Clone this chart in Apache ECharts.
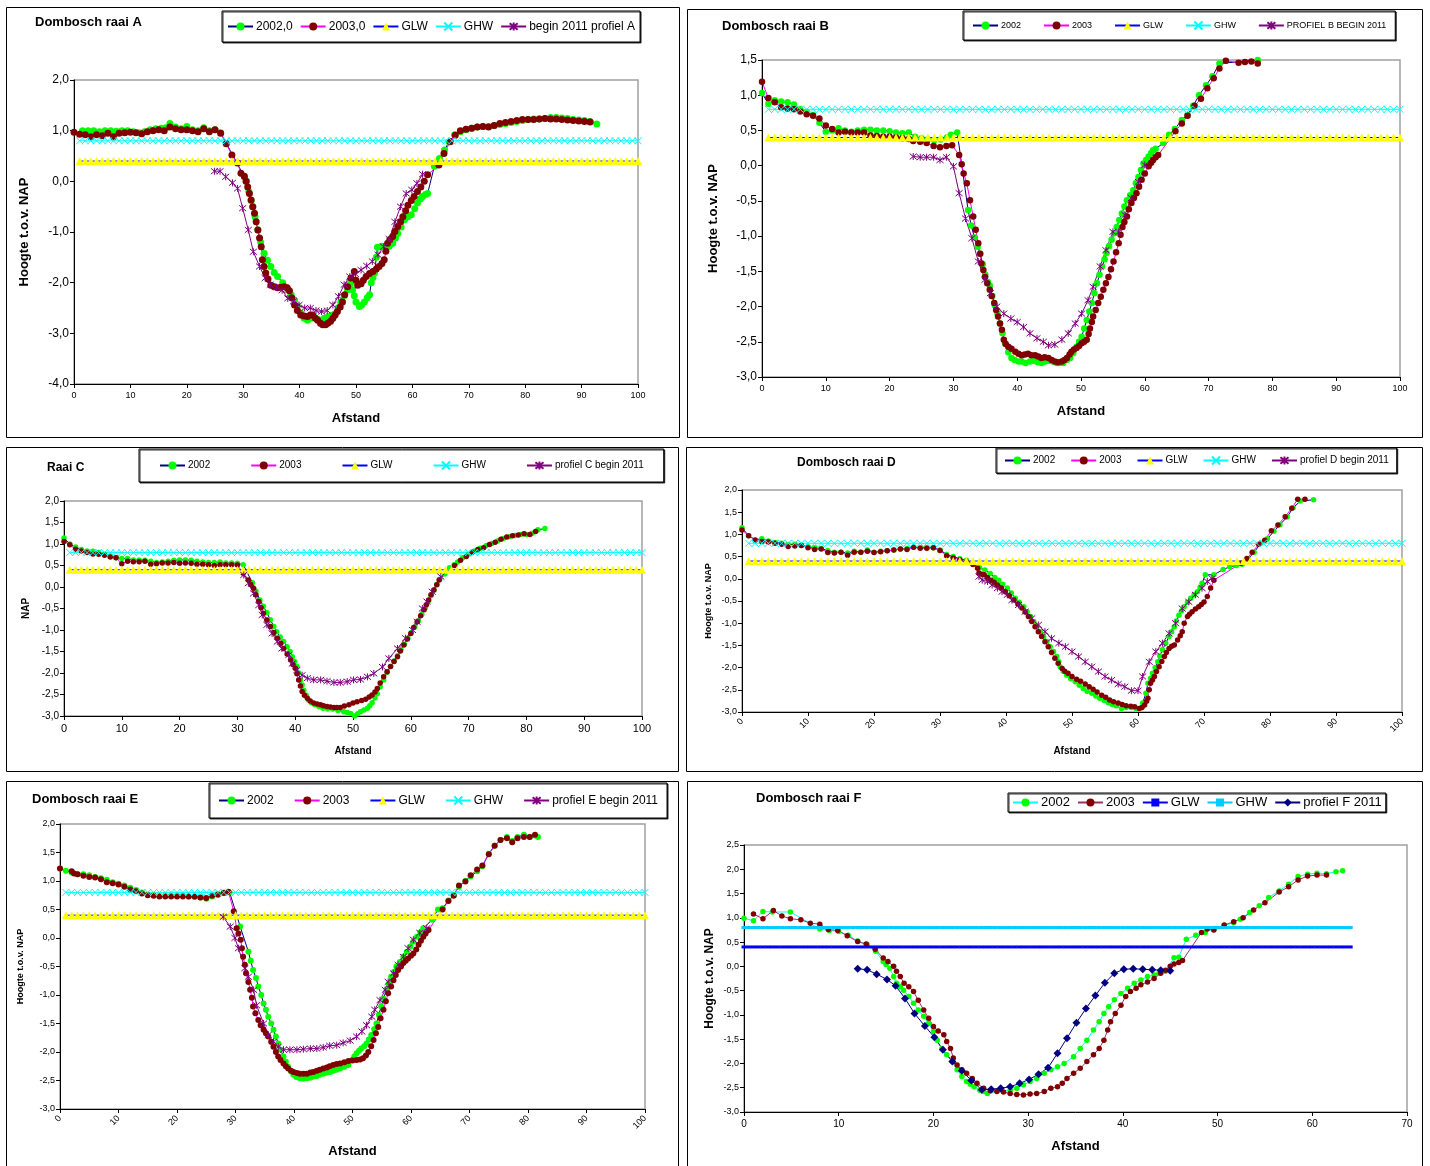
<!DOCTYPE html>
<html><head><meta charset="utf-8">
<script src="https://cdn.jsdelivr.net/npm/echarts@6/dist/echarts.min.js"></script>
<style>html,body{margin:0;padding:0;background:#fff}#c{width:1430px;height:1166px}</style>
</head><body><div id="c"></div>
<script>
// ---------------- DATA ----------------
const GLW_LEVEL = 0.4, GHW_LEVEL = 0.8;

const A_2002 = [[1.5,1.0],[2.5,1.0],[3.5,1.0],[4.5,0.98],[5.5,1.0],[6.5,1.0],[7.5,0.99],[8.5,1.0],[9.5,1.0],[10.5,0.98],[11.5,0.96],[12.5,0.98],[13.5,1.02],[14.5,1.04],[15.5,1.05],[16.3,1.06],[17,1.14],[18,1.07],[19,1.04],[20,1.08],[21,1.02],[22,1.0],[23,1.06],[24,1.0],[25,1.02],[26,0.96],
[30.2,0.09],[30.6,0.0],[31.0,-0.2],[31.4,-0.38],[31.7,-0.5],[32.1,-0.7],[32.6,-0.96],[33.1,-1.2],[33.7,-1.42],[34.3,-1.56],[34.9,-1.68],[35.5,-1.8],[36.1,-1.88],[37.0,-2.0],[37.9,-2.14],[38.5,-2.24],[39.1,-2.34],[39.6,-2.46],[40.2,-2.6],[40.8,-2.7],[41.4,-2.74],[42.0,-2.7],[42.6,-2.68],[43.2,-2.72],[43.8,-2.74],[44.4,-2.7],[45.0,-2.68],[45.6,-2.65],[46.2,-2.62],[46.8,-2.5],[47.3,-2.38],[47.9,-2.26],[48.5,-2.14],[49.1,-2.0],[49.4,-2.14],[49.7,-2.26],[50.0,-2.38],[50.6,-2.47],[51.0,-2.44],[51.5,-2.38],[52.0,-2.3],[52.4,-2.24],[52.7,-2.0],[53.0,-1.9],[53.3,-1.81],[53.6,-1.5],[53.8,-1.3],[54.5,-1.28],[55.3,-1.32],[55.9,-1.28],[56.5,-1.22],[57.0,-1.12],[57.4,-1.03],[58.0,-0.9],[58.6,-0.76],[59.2,-0.7],[59.8,-0.66],[60.4,-0.54],[60.9,-0.43],[61.4,-0.35],[61.8,-0.3],[62.3,-0.26],[62.7,-0.24],
[63.9,0.3],[64.8,0.45],[65.7,0.62],[66.5,0.78],[67.5,0.92],[68.5,0.98],[69.5,1.02],[70.5,1.05],[71.5,1.07],[72.5,1.08],[73.5,1.08],[74.5,1.1],[75.5,1.12],[76.5,1.14],[77.5,1.16],[78.5,1.18],[79.5,1.2],[80.5,1.22],[81.5,1.23],[82.5,1.23],[83.5,1.24],[84.5,1.26],[85.5,1.26],[86.5,1.25],[87.5,1.24],[88.5,1.22],[89.5,1.21],[90.5,1.2],[91.5,1.18],[92.7,1.13]];
const A_2003 = [[0,0.97],[1,0.93],[2,0.92],[3,0.88],[4,0.92],[5,0.9],[6,0.95],[7,0.88],[8,0.95],[9,0.96],[10,0.97],[11,0.96],[12,0.94],[13,0.98],[14,1.0],[15,1.02],[16,1.0],[17,1.07],[18,1.04],[19,1.02],[20,1.02],[21,1.0],[22,0.98],[23,1.04],[24,0.98],[25,1.02],[26,0.95],[27,0.74],[28,0.52],[29,0.36],
[29.6,0.16],[30.2,0.1],[30.5,0.0],[30.8,-0.11],[31.1,-0.24],[31.4,-0.37],[31.7,-0.5],[32.0,-0.63],[32.3,-0.8],[32.6,-0.96],[32.9,-1.12],[33.2,-1.29],[33.4,-1.55],[33.7,-1.68],[34.0,-1.81],[34.4,-1.93],[34.9,-2.05],[35.5,-2.08],[36.1,-2.1],[36.7,-2.09],[37.3,-2.08],[37.8,-2.1],[38.2,-2.16],[38.6,-2.3],[39.1,-2.44],[39.6,-2.55],[40.2,-2.64],[40.8,-2.66],[41.4,-2.67],[41.9,-2.64],[42.3,-2.64],[42.8,-2.7],[43.2,-2.74],[43.7,-2.8],[44.1,-2.83],[44.6,-2.83],[45.0,-2.8],[45.5,-2.76],[45.9,-2.7],[46.3,-2.64],[46.7,-2.57],[47.2,-2.48],[47.6,-2.38],[48.0,-2.24],[48.5,-2.08],[49.1,-1.91],[49.7,-1.78],[50.0,-1.95],[50.3,-2.05],[50.9,-2.02],[51.3,-1.95],[51.8,-1.88],[52.4,-1.82],[53.0,-1.78],[53.6,-1.73],[54.1,-1.68],[54.6,-1.62],[55.0,-1.55],[55.3,-1.38],[55.6,-1.22],[56.0,-1.15],[56.5,-1.09],[56.9,-0.99],[57.4,-0.89],[57.9,-0.8],[58.3,-0.7],[58.8,-0.58],[59.2,-0.47],[59.8,-0.38],[60.3,-0.3],[60.9,-0.2],[61.5,-0.11],[62.1,0.0],[62.7,0.13],
[64.7,0.32],[65.6,0.55],[66.7,0.78],[67.6,0.91],[68.5,1.0],[69.5,1.03],[70.5,1.05],[71.5,1.07],[72.5,1.08],[73.5,1.07],[74.5,1.1],[75.5,1.14],[76.5,1.16],[77.5,1.18],[78.5,1.2],[79.5,1.22],[80.5,1.22],[81.5,1.22],[82.5,1.23],[83.5,1.24],[84.5,1.23],[85.5,1.23],[86.5,1.22],[87.5,1.21],[88.5,1.2],[89.5,1.19],[90.5,1.18],[91.5,1.17]];
const A_2011 = [[24.9,0.2],[25.9,0.2],[26.9,0.09],[28.1,-0.03],[29.0,-0.14],[29.9,-0.53],[30.9,-0.96],[31.8,-1.39],[32.9,-1.68],[33.9,-1.91],[34.8,-2.04],[35.9,-2.09],[36.9,-2.15],[37.9,-2.31],[38.9,-2.37],[39.9,-2.44],[40.9,-2.5],[41.9,-2.5],[42.9,-2.55],[43.9,-2.57],[44.9,-2.55],[45.9,-2.44],[46.9,-2.27],[47.9,-2.04],[48.9,-1.88],[49.9,-1.83],[50.9,-1.75],[51.9,-1.67],[52.9,-1.58],[53.9,-1.45],[54.9,-1.29],[55.9,-1.14],[56.9,-0.8],[57.9,-0.5],[58.9,-0.24],[59.9,-0.17],[60.8,-0.04],[61.8,0.14]];

const B_2002 = [[0,1.03],[1,0.88],[2,0.93],[3,0.91],[4,0.9],[5,0.87],[6,0.8],[7,0.76],[8,0.72],[9,0.61],[10,0.48],[11,0.5],[12,0.53],[13,0.5],[14,0.48],[15,0.5],[16,0.51],[17,0.51],[18,0.5],[19,0.5],[20,0.49],[21,0.47],[22,0.46],[23,0.47],[24,0.41],[25,0.39],[26,0.37],[27,0.36],[28,0.37],[29,0.4],[29.6,0.44],[30.6,0.47],
[32.3,-0.63],[32.8,-0.85],[33.3,-1.02],[33.8,-1.15],[34.2,-1.25],[34.6,-1.4],[35.0,-1.55],[35.4,-1.65],[35.7,-1.7],[36.1,-1.85],[36.5,-1.98],[36.9,-2.1],[37.3,-2.24],[37.7,-2.38],[38.1,-2.52],[38.6,-2.65],[39.1,-2.73],[39.6,-2.76],[40.2,-2.78],[40.7,-2.78],[41.3,-2.8],[42.0,-2.78],[42.6,-2.77],[43.2,-2.79],[43.8,-2.8],[44.4,-2.78],[45.0,-2.77],[45.6,-2.78],[46.2,-2.8],[46.7,-2.8],[47.2,-2.8],[47.8,-2.76],[48.3,-2.73],[48.8,-2.66],[49.3,-2.57],[49.7,-2.5],[50.1,-2.43],[50.5,-2.31],[50.9,-2.19],[51.3,-2.07],[51.7,-1.95],[52.1,-1.81],[52.5,-1.67],[52.9,-1.55],[53.3,-1.43],[53.7,-1.33],[54.0,-1.24],[54.4,-1.14],[54.8,-1.05],[55.2,-0.96],[55.6,-0.87],[56.0,-0.77],[56.4,-0.68],[56.8,-0.58],[57.2,-0.49],[57.7,-0.42],[58.2,-0.35],[58.6,-0.25],[59.0,-0.16],[59.4,-0.06],[59.8,0.03],[60.2,0.08],[60.6,0.13],[61.0,0.18],[61.3,0.22],[61.7,0.24],
[62.9,0.32],[63.8,0.44],[64.7,0.52],[65.8,0.65],[66.7,0.72],[67.6,0.85],[68.5,1.0],[69.6,1.14],[70.6,1.27],[71.7,1.45],[77.7,1.5]];
const B_2003 = [[0,1.19],[1,0.96],[2,0.9],[3,0.83],[4,0.81],[5,0.8],[6,0.77],[7,0.73],[8,0.71],[9,0.67],[10,0.57],[11,0.52],[12,0.47],[13,0.48],[14,0.47],[15,0.47],[16,0.47],[17,0.43],[18,0.42],[19,0.41],[20,0.41],[21,0.4],[22,0.39],[23,0.38],[23.7,0.35],[24.8,0.34],[25.8,0.32],[26.9,0.28],[27.9,0.26],[28.9,0.28],[29.8,0.29],
[30.9,0.15],[31.3,0.02],[31.6,-0.11],[32.1,-0.25],[32.6,-0.49],[33.1,-0.72],[33.5,-0.91],[33.9,-1.1],[34.2,-1.25],[34.4,-1.39],[34.7,-1.48],[34.95,-1.58],[35.3,-1.67],[35.7,-1.76],[36.0,-1.85],[36.4,-1.95],[36.7,-2.05],[37.0,-2.14],[37.3,-2.24],[37.6,-2.33],[37.9,-2.47],[38.2,-2.53],[38.6,-2.57],[39.1,-2.6],[39.7,-2.64],[40.2,-2.67],[40.7,-2.69],[41.2,-2.68],[41.7,-2.67],[42.2,-2.69],[42.8,-2.69],[43.3,-2.71],[43.8,-2.73],[44.3,-2.72],[44.9,-2.73],[45.4,-2.76],[45.9,-2.78],[46.4,-2.79],[47.0,-2.78],[47.4,-2.76],[47.8,-2.73],[48.2,-2.68],[48.5,-2.64],[48.9,-2.61],[49.3,-2.59],[49.7,-2.56],[50.1,-2.52],[50.5,-2.5],[50.9,-2.47],[51.2,-2.39],[51.4,-2.31],[51.7,-2.22],[51.9,-2.14],[52.3,-2.05],[52.7,-1.95],[53.1,-1.86],[53.5,-1.76],[53.9,-1.67],[54.3,-1.58],[54.7,-1.47],[55.1,-1.36],[55.5,-1.23],[55.9,-1.1],[56.2,-0.98],[56.5,-0.87],[56.8,-0.8],[57.2,-0.72],[57.5,-0.62],[57.9,-0.53],[58.3,-0.46],[58.7,-0.39],[59.1,-0.3],[59.5,-0.2],[60.0,-0.11],[60.6,-0.01],[61.0,0.04],[61.3,0.08],[61.7,0.12],[62.1,0.15],
[64.8,0.49],[65.8,0.6],[66.7,0.71],[67.8,0.85],[68.8,0.95],[69.8,1.1],[70.8,1.24],[71.7,1.38],[72.7,1.49],[74.7,1.46],[75.7,1.47],[76.7,1.48],[77.7,1.45]];
const B_2011 = [[23.7,0.13],[24.8,0.12],[25.8,0.12],[26.9,0.12],[27.9,0.08],[28.9,0.12],[30.0,-0.01],[30.9,-0.39],[31.9,-0.75],[32.9,-1.03],[33.9,-1.36],[34.95,-1.62],[35.8,-1.81],[36.8,-2.0],[37.9,-2.1],[39.0,-2.17],[40.0,-2.22],[41.0,-2.29],[42.0,-2.38],[43.1,-2.45],[44.1,-2.5],[44.9,-2.55],[45.9,-2.54],[47.0,-2.47],[48.0,-2.38],[49.1,-2.24],[50.1,-2.1],[51.1,-1.91],[51.9,-1.72],[53.0,-1.43],[53.9,-1.2],[55.0,-0.94],[55.9,-0.94],[56.9,-0.7],[57.9,-0.46],[59.0,-0.23],[60.0,0.01]];

const C_2002 = [[0,1.14],[1,1.0],[2,0.93],[3,0.87],[4,0.84],[5,0.83],[6,0.8],[7,0.76],[8,0.72],[9,0.68],[10,0.66],[11,0.66],[12,0.63],[13,0.63],[14,0.62],[15,0.6],[16,0.57],[17,0.58],[18,0.6],[19,0.62],[20,0.63],[21,0.63],[22,0.62],[23,0.6],[24,0.58],[25,0.57],[26,0.57],[27,0.58],[28,0.56],[29,0.56],[30,0.55],[31,0.52],
[32.6,0.1],[33.2,-0.1],[33.9,-0.3],[34.5,-0.45],[35.1,-0.6],[35.7,-0.76],[36.3,-0.92],[36.8,-1.04],[37.4,-1.16],[38.0,-1.27],[38.6,-1.39],[39.1,-1.5],[39.5,-1.62],[39.9,-1.73],[40.3,-1.85],[40.6,-2.0],[40.9,-2.16],[41.2,-2.28],[41.5,-2.4],[41.9,-2.52],[42.3,-2.63],[42.8,-2.69],[43.4,-2.74],[44.1,-2.78],[44.8,-2.82],[45.6,-2.83],[46.5,-2.84],[47.4,-2.87],[48.4,-2.9],[49.0,-2.92],[49.6,-2.94],[50.3,-3.0],[50.8,-2.95],[51.3,-2.9],[51.9,-2.86],[52.5,-2.82],[52.9,-2.76],[53.3,-2.69],[53.8,-2.58],[54.2,-2.48],[54.7,-2.32],[55.3,-2.16],[55.9,-1.98],[56.5,-1.85],[57.1,-1.72],[57.7,-1.6],[58.3,-1.46],[58.9,-1.33],[59.5,-1.19],[60.1,-1.06],[60.7,-0.93],[61.3,-0.79],[61.9,-0.64],[62.5,-0.49],[63.0,-0.34],[63.5,-0.2],[64.0,-0.07],[64.5,0.06],[65.0,0.18],
[65.9,0.3],[66.7,0.45],[67.5,0.52],[68.1,0.58],[69.0,0.68],[70.0,0.76],[71.0,0.84],[72.0,0.9],[73.0,0.96],[74.0,1.01],[75.0,1.07],[76.0,1.13],[77.0,1.17],[78.0,1.2],[79.0,1.22],[80.0,1.22],[81.0,1.25],[82.0,1.33],[83.2,1.36]];
const C_2003 = [[0,1.06],[1,0.98],[2,0.88],[3,0.84],[4,0.8],[5,0.77],[6,0.76],[7,0.74],[8,0.7],[9,0.68],[10,0.54],[11,0.6],[12,0.59],[13,0.59],[14,0.6],[15,0.53],[16,0.54],[17,0.56],[18,0.56],[19,0.57],[20,0.55],[21,0.56],[22,0.55],[23,0.53],[24,0.53],[25,0.52],[26,0.5],[27,0.52],[28,0.52],[29,0.52],[30,0.51],[31,0.32],
[31.9,0.16],[32.3,0.06],[32.8,-0.03],[33.2,-0.18],[33.7,-0.34],[34.1,-0.48],[34.5,-0.61],[35.1,-0.77],[35.7,-0.92],[36.3,-1.06],[36.9,-1.19],[37.5,-1.31],[38.0,-1.43],[38.6,-1.56],[39.2,-1.7],[39.6,-1.8],[40.0,-1.89],[40.3,-2.02],[40.6,-2.16],[40.9,-2.3],[41.2,-2.43],[41.6,-2.52],[42.1,-2.59],[42.6,-2.65],[43.2,-2.7],[43.8,-2.72],[44.4,-2.74],[44.9,-2.76],[45.5,-2.78],[46.1,-2.79],[46.7,-2.8],[47.2,-2.8],[47.8,-2.8],[48.5,-2.77],[49.3,-2.74],[50.0,-2.7],[50.7,-2.67],[51.5,-2.64],[52.2,-2.61],[52.8,-2.56],[53.3,-2.51],[53.8,-2.44],[54.2,-2.36],[54.7,-2.23],[55.3,-2.09],[55.9,-1.97],[56.5,-1.85],[57.1,-1.73],[57.7,-1.62],[58.2,-1.49],[58.8,-1.35],[59.4,-1.21],[60.0,-1.08],[60.5,-0.94],[61.1,-0.81],[61.7,-0.67],[62.3,-0.53],[62.7,-0.41],[63.1,-0.3],[63.5,-0.18],[64.0,-0.07],[64.5,0.05],[64.9,0.16],
[67.6,0.5],[68.6,0.62],[69.6,0.71],[70.6,0.81],[71.6,0.87],[72.6,0.91],[73.6,0.99],[74.6,1.04],[75.6,1.11],[76.6,1.16],[77.6,1.19],[78.6,1.21],[79.6,1.24],[80.6,1.22],[81.6,1.29]];
const C_2011 = [[31.1,0.28],[31.9,0.09],[32.8,-0.15],[33.7,-0.42],[34.3,-0.65],[35.1,-0.88],[36.0,-1.08],[36.9,-1.27],[37.7,-1.43],[38.9,-1.58],[39.5,-1.78],[40.3,-1.93],[41.2,-2.05],[42.1,-2.12],[43.2,-2.16],[44.4,-2.16],[45.5,-2.19],[46.7,-2.22],[47.8,-2.22],[49.0,-2.2],[50.1,-2.16],[51.3,-2.15],[52.5,-2.09],[53.6,-2.01],[55.1,-1.86],[56.2,-1.66],[57.7,-1.43],[59.1,-1.19],[60.3,-1.0],[61.1,-0.81],[62.0,-0.5],[62.8,-0.34],[63.7,-0.11],[65.2,0.24]];

const D_2002 = [[0,1.15],[1,0.97],[2,0.88],[3,0.9],[4,0.85],[5,0.82],[6,0.8],[7,0.77],[8,0.78],[9,0.75],[10,0.73],[11,0.7],[12,0.68],[13,0.64],[14,0.6],[15,0.6],[16,0.58],[17,0.62],[18,0.6],[19,0.65],[20,0.6],[21,0.62],[22,0.63],[23,0.65],[24,0.67],[25,0.68],[26,0.71],[27,0.7],[28,0.7],[29,0.7],[30,0.65],[31,0.55],[32,0.5],[33,0.45],[34,0.42],[35,0.33],[36,0.25],
[36.8,0.2],[37.6,0.12],[38.3,0.03],[38.9,-0.03],[39.5,-0.12],[40.2,-0.21],[40.8,-0.32],[41.4,-0.44],[42.0,-0.53],[42.7,-0.63],[43.2,-0.74],[43.7,-0.85],[44.2,-0.96],[44.7,-1.08],[45.2,-1.19],[45.7,-1.3],[46.2,-1.41],[46.7,-1.53],[47.2,-1.64],[47.7,-1.75],[48.0,-1.87],[48.2,-1.98],[48.7,-2.08],[49.2,-2.17],[49.8,-2.25],[50.5,-2.32],[51.1,-2.4],[51.7,-2.47],[52.3,-2.53],[53.0,-2.58],[53.6,-2.64],[54.2,-2.69],[54.9,-2.74],[55.5,-2.79],[56.1,-2.83],[56.7,-2.86],[57.5,-2.92],[58.2,-2.9],[59.0,-2.9],[59.7,-2.92],[60.2,-2.92],[60.7,-2.8],[61.2,-2.58],[61.5,-2.35],[61.9,-2.24],[62.2,-2.13],[62.6,-2.0],[63.0,-1.87],[63.3,-1.74],[63.7,-1.6],[64.2,-1.45],[64.7,-1.3],[65.1,-1.19],[65.5,-1.08],[65.8,-0.95],[66.2,-0.82],[66.6,-0.72],[67.0,-0.63],[67.5,-0.53],[68.0,-0.44],[68.5,-0.36],[69.0,-0.29],[69.4,-0.2],[69.7,-0.1],[70.2,0.09],[71.5,0.09],
[72.9,0.21],[73.9,0.27],[74.9,0.3],[75.8,0.33],[76.7,0.45],[77.6,0.6],[78.6,0.8],[79.6,0.9],[80.6,1.07],[81.5,1.22],[82.6,1.39],[83.5,1.6],[84.6,1.75],[86.6,1.78]];
const D_2003 = [[0,1.1],[1,0.97],[2,0.87],[3,0.84],[4,0.83],[5,0.8],[6,0.78],[7,0.73],[8,0.74],[9,0.75],[10,0.7],[11,0.66],[12,0.67],[13,0.59],[14,0.58],[15,0.6],[16,0.53],[17,0.6],[18,0.6],[19,0.62],[20,0.59],[21,0.61],[22,0.63],[23,0.65],[24,0.67],[25,0.66],[26,0.71],[27,0.69],[28,0.69],[29,0.7],[30,0.64],[31,0.52],[32,0.47],[33,0.43],[34,0.38],[35,0.32],
[35.7,0.24],[35.9,0.13],[36.3,0.1],[36.7,0.09],[37.2,0.03],[37.7,-0.03],[38.2,-0.08],[38.7,-0.14],[39.3,-0.21],[39.9,-0.29],[40.5,-0.38],[41.2,-0.48],[41.8,-0.57],[42.4,-0.66],[42.9,-0.75],[43.4,-0.85],[43.9,-0.96],[44.4,-1.08],[44.9,-1.19],[45.4,-1.3],[45.9,-1.42],[46.4,-1.53],[46.9,-1.66],[47.4,-1.79],[47.9,-1.9],[48.5,-2.02],[48.9,-2.08],[49.4,-2.13],[50.0,-2.2],[50.7,-2.26],[51.3,-2.31],[52.0,-2.37],[52.6,-2.43],[53.2,-2.49],[53.8,-2.55],[54.5,-2.62],[55.1,-2.67],[55.7,-2.73],[56.3,-2.77],[57.0,-2.8],[57.6,-2.83],[58.2,-2.86],[58.9,-2.87],[59.5,-2.88],[60.2,-2.92],[60.6,-2.9],[61.0,-2.84],[61.3,-2.76],[61.5,-2.69],[61.7,-2.5],[61.9,-2.35],[62.2,-2.28],[62.5,-2.2],[62.8,-2.09],[63.2,-1.98],[63.6,-1.86],[64.0,-1.75],[64.3,-1.66],[64.7,-1.57],[65.1,-1.52],[65.5,-1.49],[66.0,-1.38],[66.4,-1.28],[66.7,-1.19],[67.0,-1.0],[67.5,-0.85],[67.8,-0.8],[68.2,-0.74],[68.7,-0.68],[69.2,-0.63],[69.6,-0.58],[70.0,-0.52],[70.5,-0.4],[71.0,-0.21],[71.5,-0.03],
[75.6,0.35],[76.5,0.46],[77.3,0.6],[78.3,0.78],[79.2,0.87],[80.2,1.08],[81.2,1.21],[82.3,1.4],[83.3,1.59],[84.2,1.79],[85.3,1.79]];
const D_2011 = [[35.9,0.05],[36.4,-0.03],[37.2,-0.06],[37.9,-0.14],[38.7,-0.21],[39.4,-0.29],[40.2,-0.36],[40.9,-0.48],[41.9,-0.59],[42.9,-0.74],[43.9,-0.89],[44.9,-1.04],[45.9,-1.19],[46.9,-1.34],[48.0,-1.45],[49.0,-1.53],[50.0,-1.64],[51.0,-1.75],[52.0,-1.87],[53.0,-1.98],[54.0,-2.09],[55.0,-2.2],[56.0,-2.28],[57.0,-2.37],[58.0,-2.43],[59.0,-2.52],[60.0,-2.52],[60.7,-2.2],[61.7,-1.87],[62.7,-1.64],[63.7,-1.45],[64.7,-1.23],[65.7,-1.0],[66.7,-0.67],[67.7,-0.52],[68.7,-0.36],[69.7,-0.21],[70.5,-0.06],[71.2,0.01]];

const E_2002 = [[0,1.22],[1,1.18],[2,1.15],[3,1.12],[4,1.12],[5,1.1],[6,1.07],[7,1.05],[8,1.02],[9,0.98],[10,0.95],[11,0.92],[12,0.88],[13,0.84],[14,0.8],[15,0.76],[16,0.75],[17,0.74],[18,0.74],[19,0.74],[20,0.74],[21,0.74],[22,0.73],[23,0.72],[24,0.71],[25,0.69],[26,0.73],[27,0.77],[28,0.8],[29,0.8],
[30.8,0.2],[32.2,-0.24],[32.6,-0.4],[33.0,-0.56],[33.5,-0.7],[33.9,-0.85],[34.4,-1.0],[34.8,-1.15],[35.2,-1.26],[35.6,-1.38],[36.1,-1.5],[36.5,-1.61],[36.9,-1.73],[37.3,-1.85],[37.7,-1.96],[38.2,-2.08],[38.6,-2.17],[39.0,-2.26],[39.5,-2.34],[39.9,-2.4],[40.4,-2.44],[41.0,-2.46],[41.6,-2.47],[42.2,-2.46],[42.8,-2.45],[43.3,-2.43],[43.9,-2.42],[44.4,-2.4],[45.0,-2.38],[45.6,-2.36],[46.2,-2.35],[46.7,-2.33],[47.3,-2.31],[47.9,-2.29],[48.6,-2.26],[49.3,-2.23],[49.9,-2.14],[50.3,-2.08],[50.7,-2.02],[51.1,-1.98],[51.5,-1.94],[52.0,-1.9],[52.4,-1.85],[52.8,-1.78],[53.2,-1.7],[53.7,-1.6],[54.1,-1.5],[54.5,-1.35],[54.9,-1.2],[55.3,-1.06],[55.8,-0.91],[56.2,-0.8],[56.6,-0.68],[57.1,-0.59],[57.5,-0.5],[58.1,-0.42],[58.7,-0.33],[59.3,-0.24],[59.9,-0.15],[60.4,-0.06],[61.0,0.02],[61.6,0.1],[62.1,0.17],
[63.6,0.32],[64.6,0.5],[65.4,0.52],[66.4,0.66],[67.3,0.75],[68.2,0.9],[69.3,1.0],[70.2,1.08],[71.3,1.17],[72.2,1.26],[73.3,1.48],[74.3,1.62],[75.3,1.72],[76.4,1.77],[77.3,1.7],[78.2,1.77],[79.3,1.81],[80.3,1.77],[81.2,1.8],[81.7,1.77]];
const E_2003 = [[0,1.22],[2,1.17],[2.4,1.13],[3,1.12],[4,1.09],[5,1.07],[6,1.06],[7,1.03],[8,0.98],[9,0.96],[10,0.94],[11,0.9],[12,0.85],[13,0.82],[14,0.78],[15,0.75],[16,0.74],[17,0.73],[18,0.73],[19,0.73],[20,0.73],[21,0.73],[22,0.73],[23,0.73],[24,0.71],[25,0.7],[26,0.74],[27,0.76],[28,0.79],[28.8,0.81],[29.7,0.47],
[30.2,0.17],[30.5,0.08],[30.9,-0.03],[31.1,-0.18],[31.3,-0.33],[31.6,-0.47],[31.8,-0.62],[32.2,-0.77],[32.5,-0.91],[32.8,-1.05],[33.0,-1.2],[33.4,-1.32],[33.9,-1.44],[34.3,-1.53],[34.8,-1.61],[35.2,-1.67],[35.6,-1.73],[36.1,-1.82],[36.5,-1.91],[36.9,-2.0],[37.3,-2.08],[37.7,-2.14],[38.2,-2.2],[38.6,-2.25],[39.0,-2.29],[39.5,-2.33],[39.9,-2.35],[40.5,-2.37],[41.0,-2.38],[41.6,-2.38],[42.2,-2.38],[42.8,-2.36],[43.3,-2.35],[43.9,-2.33],[44.4,-2.31],[45.0,-2.29],[45.6,-2.27],[46.1,-2.25],[46.7,-2.23],[47.3,-2.21],[47.9,-2.2],[48.6,-2.18],[49.3,-2.16],[50.0,-2.15],[50.7,-2.14],[51.3,-2.13],[51.8,-2.11],[52.3,-2.06],[52.7,-2.0],[53.2,-1.9],[53.6,-1.79],[54.0,-1.67],[54.4,-1.56],[54.8,-1.41],[55.3,-1.26],[55.7,-1.11],[56.1,-0.97],[56.6,-0.85],[57.0,-0.74],[57.4,-0.65],[57.8,-0.56],[58.3,-0.5],[58.7,-0.44],[59.1,-0.4],[59.5,-0.36],[60.0,-0.31],[60.4,-0.27],[60.9,-0.2],[61.3,-0.12],[61.7,-0.05],[62.1,0.02],[62.5,0.08],[63.0,0.14],
[65.4,0.5],[66.4,0.65],[67.3,0.74],[68.2,0.92],[69.3,0.99],[70.2,1.1],[71.3,1.2],[72.2,1.27],[73.3,1.47],[74.3,1.62],[75.3,1.72],[76.4,1.75],[77.3,1.68],[78.2,1.75],[79.3,1.77],[80.3,1.77],[81.2,1.81]];
const E_2011 = [[27.9,0.37],[29.1,0.2],[29.9,0.0],[30.5,-0.18],[31.6,-0.53],[32.2,-0.68],[33.1,-0.91],[33.6,-1.18],[34.8,-1.5],[35.6,-1.7],[36.5,-1.82],[37.3,-1.91],[38.2,-1.96],[39.3,-1.96],[40.5,-1.96],[41.6,-1.95],[42.8,-1.94],[43.9,-1.94],[45.0,-1.92],[46.1,-1.89],[47.3,-1.88],[48.4,-1.84],[49.6,-1.8],[50.7,-1.73],[51.6,-1.64],[52.4,-1.53],[53.3,-1.38],[53.8,-1.26],[54.7,-1.09],[55.6,-0.91],[56.1,-0.77],[57.0,-0.62],[57.8,-0.47],[58.7,-0.33],[59.5,-0.18],[60.4,-0.03],[61.5,0.09],[62.7,0.17]];

const F_2002 = [[0,0.99],[1,0.94],[2,1.13],[3,1.12],[4.9,1.12],[8,0.77],[9,0.74],[10,0.72],[11,0.64],[12,0.52],[13,0.45],[13.9,0.31],
[14.7,0.1],[15.0,0.04],[15.4,-0.04],[15.8,-0.21],[16.1,-0.35],[16.5,-0.42],[16.85,-0.49],[17.4,-0.62],[17.9,-0.76],[18.4,-0.9],[18.97,-1.03],[19.5,-1.17],[20.0,-1.34],[20.4,-1.52],[20.9,-1.69],[21.4,-1.82],[21.96,-1.96],[22.5,-2.13],[23.0,-2.27],[23.5,-2.37],[23.9,-2.43],[24.3,-2.48],[24.9,-2.55],[25.3,-2.58],[25.7,-2.62],[28.1,-2.55],[28.8,-2.51],[29.5,-2.44],[30.2,-2.37],[30.9,-2.31],[31.7,-2.2],[32.4,-2.13],[33.1,-2.07],[33.8,-2.0],[34.8,-1.86],[35.5,-1.69],[36.2,-1.52],[36.9,-1.31],[37.5,-1.14],[38.0,-0.97],[38.5,-0.83],[39.1,-0.69],[39.8,-0.56],[40.5,-0.45],[41.2,-0.35],[41.9,-0.28],[42.6,-0.21],[43.3,-0.18],[43.8,-0.14],[44.5,-0.1],[45.4,0.18],[45.9,0.19],
[46.7,0.56],[47.7,0.64],[48.7,0.7],[49.7,0.78],[50.7,0.84],[51.7,0.9],[52.4,0.97],[53.4,1.11],[54.4,1.25],[55.4,1.42],[56.5,1.55],[57.5,1.69],[58.5,1.85],[59.5,1.9],[60.5,1.92],[61.5,1.91],[62.5,1.95],[63.2,1.97]];
const F_2003 = [[1,1.08],[2,0.98],[3.1,1.15],[4,1.04],[4.9,0.98],[6,0.96],[7,0.89],[8,0.87],[8.9,0.76],[9.9,0.74],[10.9,0.63],[12,0.51],[12.9,0.46],[13.85,0.35],
[14.7,0.17],[15.2,0.1],[15.8,0.0],[16.1,-0.1],[16.5,-0.21],[16.9,-0.35],[17.4,-0.42],[17.9,-0.52],[18.4,-0.7],[18.97,-0.9],[19.5,-1.07],[20.0,-1.24],[20.5,-1.33],[21.1,-1.41],[21.4,-1.55],[21.8,-1.69],[22.1,-1.89],[22.5,-2.03],[23.0,-2.13],[23.5,-2.2],[24.1,-2.31],[24.6,-2.41],[25.3,-2.51],[26.0,-2.56],[26.7,-2.58],[27.4,-2.59],[28.1,-2.62],[28.8,-2.64],[29.5,-2.65],[30.2,-2.63],[30.9,-2.62],[31.7,-2.58],[32.4,-2.51],[33.1,-2.48],[33.6,-2.41],[34.1,-2.31],[34.8,-2.2],[35.5,-2.1],[36.2,-1.96],[36.9,-1.82],[37.5,-1.69],[38.0,-1.52],[38.4,-1.31],[38.7,-1.14],[39.2,-0.97],[39.8,-0.8],[40.3,-0.62],[40.8,-0.52],[41.4,-0.45],[41.9,-0.38],[42.6,-0.32],[43.3,-0.25],[44.0,-0.14],[44.5,-0.08],[45.0,0.0],[45.4,0.05],[45.9,0.08],[46.3,0.12],
[48.3,0.7],[48.9,0.77],[49.6,0.75],[50.7,0.85],[51.7,0.92],[52.7,1.0],[53.8,1.16],[55.0,1.31],[56.5,1.53],[57.5,1.64],[58.5,1.78],[59.5,1.86],[60.5,1.88],[61.5,1.88]];
const F_2011 = [[12.0,-0.05],[13.0,-0.07],[14.0,-0.16],[15.1,-0.27],[16.0,-0.4],[17.0,-0.66],[18.0,-0.97],[19.1,-1.23],[20.1,-1.46],[21.0,-1.72],[22.0,-1.96],[23.0,-2.15],[24.0,-2.35],[25.1,-2.54],[26.1,-2.53],[27.1,-2.51],[28.1,-2.48],[29.1,-2.41],[30.1,-2.33],[31.1,-2.22],[32.1,-2.09],[33.1,-1.79],[34.1,-1.48],[35.1,-1.16],[36.1,-0.87],[37.1,-0.6],[38.1,-0.34],[39.1,-0.14],[40.1,-0.06],[41.1,-0.05],[42.1,-0.06],[43.1,-0.07],[44.0,-0.08],[45.0,-0.09]];

// level-line sample positions (x) for the constant GLW/GHW reference levels
function steps(a, b, s) { const r = []; for (let x = a; x <= b + 1e-9; x += s) r.push(+x.toFixed(2)); return r; }
const LEVEL_X_AE = steps(1, 100, 1);
const LEVEL_X_F = steps(0, 64, 0.5);
const level = (xs, v) => xs.map(x => [x, v]);

// ---------------- STYLE / LAYOUT ----------------
const FONT = 'Liberation Sans';
const XSYM = 'path://M0,0L10,10M10,0L0,10';
const STAR = 'path://M0,0L10,10M10,0L0,10M5,-1L5,11';

const panels = [
  { id:'A', grid:{left:74,top:80,width:564,height:304}, ymin:-4, ymax:2, yint:1, xmax:100, xrot:0,
    title:'Dombosch raai A', tl:35, tt:16, tfs:13, yname:'Hoogte t.o.v. NAP', ynfs:13, yngap:43, xnfs:13, xngap:28, ylfs:12, xlfs:9,
    leg:{left:222, top:11, pad:[9,5], fs:12, gap:7}, sym:7, box:[6,7,673,430],
    names:['2002,0','2003,0','GLW','GHW','begin 2011 profiel A'], d2002:A_2002, d2003:A_2003, d2011:A_2011 },
  { id:'B', grid:{left:762,top:60,width:638,height:317}, ymin:-3, ymax:1.5, yint:0.5, xmax:100, xrot:0,
    title:'Dombosch raai B', tl:722, tt:20, tfs:13, yname:'Hoogte t.o.v. NAP', ynfs:13, yngap:42, xnfs:13, xngap:28, ylfs:12, xlfs:9,
    leg:{left:963, top:11, pad:[8,9], fs:9, gap:22}, sym:6.5, box:[687,9,735,428],
    names:['2002','2003','GLW','GHW','PROFIEL B BEGIN 2011'], d2002:B_2002, d2003:B_2003, d2011:B_2011 },
  { id:'C', grid:{left:64,top:501,width:578,height:215}, ymin:-3, ymax:2, yint:0.5, xmax:100, xrot:0,
    title:'Raai C', tl:47, tt:462, tfs:12, yname:'NAP', ynfs:10, yngap:33, xnfs:10, xngap:30, ylfs:10, xlfs:11,
    leg:{left:139, top:449, pad:[10,20], fs:10, gap:40}, sym:5.5, box:[6,447,672,324],
    names:['2002','2003','GLW','GHW','profiel C begin 2011'], d2002:C_2002, d2003:C_2003, d2011:C_2011 },
  { id:'D', grid:{left:742,top:490,width:660,height:222}, ymin:-3, ymax:2, yint:0.5, xmax:100, xrot:45,
    title:'Dombosch raai D', tl:797, tt:457, tfs:12, yname:'Hoogte t.o.v. NAP', ynfs:9, yngap:29, xnfs:10, xngap:34, ylfs:9, xlfs:9,
    leg:{left:996, top:448, pad:[6,8], fs:10, gap:15}, sym:5.5, box:[686,447,736,324],
    names:['2002','2003','GLW','GHW','profiel D begin 2011'], d2002:D_2002, d2003:D_2003, d2011:D_2011 },
  { id:'E', grid:{left:60,top:824,width:585,height:285}, ymin:-3, ymax:2, yint:0.5, xmax:100, xrot:45,
    title:'Dombosch raai E', tl:32, tt:793, tfs:13, yname:'Hoogte t.o.v. NAP', ynfs:9, yngap:35, xnfs:13, xngap:36, ylfs:9, xlfs:9,
    leg:{left:209, top:783, pad:[11,9], fs:12, gap:20}, sym:6, box:[6,781,672,390],
    names:['2002','2003','GLW','GHW','profiel E begin 2011'], d2002:E_2002, d2003:E_2003, d2011:E_2011 },
  { id:'F', grid:{left:744,top:845,width:663,height:267}, ymin:-3, ymax:2.5, yint:0.5, xmax:70, xrot:0,
    title:'Dombosch raai F', tl:756, tt:792, tfs:13, yname:'Hoogte t.o.v. NAP', ynfs:12, yngap:28, xnfs:13, xngap:28, ylfs:9, xlfs:10,
    leg:{left:1008, top:793, pad:[3,4], fs:13, gap:7}, sym:5.5, box:[687,781,735,390],
    names:['2002','2003','GLW','GHW','profiel F 2011'], d2002:F_2002, d2003:F_2003, d2011:F_2011 }
];

const comma1 = v => v.toFixed(1).replace('.', ',');
const option = { animation:false, backgroundColor:'#fff', textStyle:{fontFamily:FONT},
  title:[], legend:[], grid:[], xAxis:[], yAxis:[], series:[], graphic:[] };

panels.forEach((p, i) => {
  option.graphic.push({ type:'rect', silent:true, z:0,
    shape:{x:p.box[0]+0.5, y:p.box[1]+0.5, width:p.box[2], height:p.box[3]},
    style:{fill:'none', stroke:'#000', lineWidth:1} });
  option.title.push({ text:p.title, left:p.tl, top:p.tt, padding:0,
    textStyle:{fontFamily:FONT, fontSize:p.tfs, fontWeight:'bold', color:'#000'} });
  option.grid.push(Object.assign({ show:true, backgroundColor:'#fff', borderColor:'#a0a0a0', borderWidth:1.5 }, p.grid));
  option.xAxis.push({ type:'value', gridIndex:i, min:0, max:p.xmax, interval:10,
    name:'Afstand', nameLocation:'middle', nameGap:p.xngap,
    nameTextStyle:{fontFamily:FONT, fontSize:p.xnfs, fontWeight:'bold', color:'#000'},
    axisLine:{onZero:false, lineStyle:{color:'#000', width:1}}, axisTick:{length:4, lineStyle:{color:'#000'}},
    axisLabel:{fontFamily:FONT, fontSize:p.xlfs, color:'#000', rotate:p.xrot, margin:p.xrot?8:7},
    splitLine:{show:false} });
  option.yAxis.push({ type:'value', gridIndex:i, min:p.ymin, max:p.ymax, interval:p.yint,
    name:p.yname, nameLocation:'middle', nameGap:p.yngap,
    nameTextStyle:{fontFamily:FONT, fontSize:p.ynfs, fontWeight:'bold', color:'#000'},
    axisLine:{show:true, onZero:false, lineStyle:{color:'#000', width:1}}, axisTick:{show:true, length:4, lineStyle:{color:'#000'}},
    axisLabel:{fontFamily:FONT, fontSize:p.ylfs, color:'#000', formatter:comma1, margin:5},
    splitLine:{show:false} });

  const isF = p.id === 'F';
  const key = n => p.id + ':' + n;
  const st = isF ? [
    {line:'#00ffff', fill:'#00ff00', sym:'circle', size:p.sym},
    {line:'#993366', fill:'#800000', sym:'circle', size:p.sym},
    {line:'#0000ff', fill:'#0000ff', sym:'rect', size:[5,3]},
    {line:'#00ccff', fill:'#00ccff', sym:'rect', size:[5,3]},
    {line:'#000080', fill:'#000080', sym:'diamond', size:8}
  ] : [
    {line:'#000080', fill:'#00ff00', sym:'circle', size:p.sym},
    {line:'#ff00ff', fill:'#800000', sym:'circle', size:p.sym},
    {line:'#0000ff', fill:'#ffff00', sym:'triangle', size:8},
    {line:'#00ffff', fill:'none', stroke:'#00ffff', bw:1, sym:XSYM, size:7},
    {line:'#800080', fill:'none', stroke:'#800080', bw:1, sym:STAR, size:7}
  ];
  const lx = isF ? LEVEL_X_F : LEVEL_X_AE;
  const datas = [p.d2002, p.d2003, level(lx, GLW_LEVEL), level(lx, GHW_LEVEL), p.d2011];
  datas.forEach((d, k) => {
    const s = st[k];
    option.series.push({ name:key(p.names[k]), type:'line', xAxisIndex:i, yAxisIndex:i, data:d,
      symbol:s.sym, symbolSize:s.size, showSymbol:true, silent:true, clip:true,
      lineStyle:{color:s.line, width:1},
      itemStyle:{color:s.fill, borderColor:s.stroke || s.fill, borderWidth:s.bw || 0} });
  });
  option.legend.push({ left:p.leg.left, top:p.leg.top, orient:'horizontal', padding:p.leg.pad,
    itemGap:p.leg.gap, itemWidth:25, itemHeight:10, selectedMode:false,
    backgroundColor:'#fff', borderColor:'#000', borderWidth:1,
    shadowColor:'rgba(0,0,0,0.8)', shadowOffsetX:1, shadowOffsetY:1, shadowBlur:0,
    data:p.names.map(key), formatter:n => n.slice(2),
    textStyle:{fontFamily:FONT, fontSize:p.leg.fs, color:'#000', padding:[0,0,0,-2]} });
});

const chart = echarts.init(document.getElementById('c'), null, {renderer:'canvas'});
chart.setOption(option);
</script></body></html>
